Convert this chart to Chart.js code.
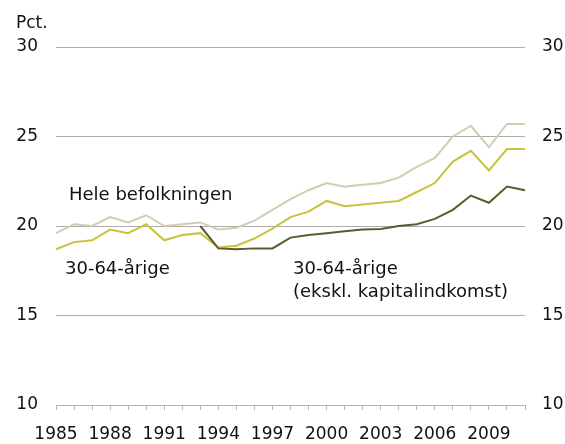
<!DOCTYPE html>
<html>
<head>
<meta charset="utf-8">
<script src="https://cdn.jsdelivr.net/npm/chart.js@4"></script>
<style>
  html, body { margin: 0; padding: 0; background: #fff; }
  #wrap { width: 565px; height: 444px; }
</style>
</head>
<body>
<div id="wrap"><canvas id="chart" width="565" height="444"></canvas></div>
<script>
const years = [];
for (let y = 1985; y <= 2011; y++) years.push(String(y));

const heleBefolkningen = [19.6, 20.1, 20.0, 20.5, 20.2, 20.6, 20.0, 20.1, 20.2, 19.8, 19.9, 20.3, 20.9, 21.5, 22.0,
    22.4, 22.2, 22.3, 22.4, 22.7, 23.3, 23.8, 25.0, 25.6, 24.4, 25.7, 25.7];
const aarige = [18.7, 19.1, 19.2, 19.8, 19.6, 20.1, 19.2, 19.5, 19.6, 18.8, 18.9, 19.3, 19.85, 20.5, 20.8,
    21.4, 21.1, 21.2, 21.3, 21.4, 21.9, 22.4, 23.6, 24.2, 23.1, 24.3, 24.3];
const aarigeEkskl = [null, null, null, null, null, null, null, null, 20.0, 18.75, 18.7, 18.75, 18.75, 19.35, 19.5,
    19.6, 19.7, 19.8, 19.83, 20.0, 20.1, 20.4, 20.9, 21.7, 21.3, 22.2, 22.0];
const yTicks = [10, 15, 20, 25, 30];

const font = 'DejaVu Sans';
Chart.defaults.font.family = font;
Chart.defaults.color = '#111';

// tekster i figuren
const labelsPlugin = {
    id: 'tekster',
    afterDraw(chart) {
        const ctx = chart.ctx;
        ctx.save();
        ctx.fillStyle = '#111';
        ctx.textBaseline = 'middle';
        ctx.textAlign = 'left';
        ctx.font = '17px ' + font;
        ctx.fillText('Pct.', 16, 24);
        ctx.font = '18px ' + font;
        ctx.fillText('Hele befolkningen', 69, 195);
        ctx.fillText('30-64-årige', 65, 269);
        ctx.fillText('30-64-årige', 293, 269);
        ctx.fillText('(ekskl. kapitalindkomst)', 293, 292);
        ctx.restore();
    }
};

new Chart(document.getElementById('chart'), {
    type: 'line',
    data: {
        labels: years,
        datasets: [
            {
                label: '30-64-årige (ekskl. kapitalindkomst)',
                data: aarigeEkskl,
                borderColor: '#5d5a2e',
                borderWidth: 2,
                pointRadius: 0,
                tension: 0,
            },
            {
                label: '30-64-årige',
                data: aarige,
                borderColor: '#c9c23c',
                borderWidth: 2,
                pointRadius: 0,
                tension: 0,
            },
            {
                label: 'Hele befolkningen',
                data: heleBefolkningen,
                borderColor: '#d3ccb2',
                borderWidth: 2,
                pointRadius: 0,
                tension: 0,
            },
        ]
    },
    options: {
        responsive: false,
        animation: false,
        layout: { padding: { left: 0, right: 0, top: 47, bottom: 0 } },
        plugins: {
            legend: { display: false },
            tooltip: { enabled: false },
        },
        scales: {
            x: {
                offset: false,
                afterFit: function(axis) { axis.height = 39; },
                grid: {
                    drawOnChartArea: false,
                    drawTicks: true,
                    tickLength: 5,
                    color: '#b4b4b4',
                },
                border: { color: '#b4b4b4' },
                ticks: {
                    autoSkip: false,
                    maxRotation: 0,
                    padding: 14,
                    font: { size: 17 },
                    callback: function(value, index) {
                        return index % 3 === 0 ? years[index] : '';
                    }
                }
            },
            y: {
                position: 'left',
                min: 10,
                max: 30,
                afterFit: function(axis) { axis.width = 56; },
                afterBuildTicks: function(axis) {
                    axis.ticks = yTicks.map(v => ({ value: v }));
                },
                grid: { color: '#acacac', drawTicks: false },
                border: { display: false },
                ticks: { padding: 18, font: { size: 17 } }
            },
            y2: {
                position: 'right',
                min: 10,
                max: 30,
                afterFit: function(axis) { axis.width = 40; },
                afterBuildTicks: function(axis) {
                    axis.ticks = yTicks.map(v => ({ value: v }));
                },
                grid: { display: false, drawTicks: false },
                border: { display: false },
                ticks: { padding: 17, font: { size: 17 } }
            }
        }
    },
    plugins: [labelsPlugin]
});
</script>
</body>
</html>
